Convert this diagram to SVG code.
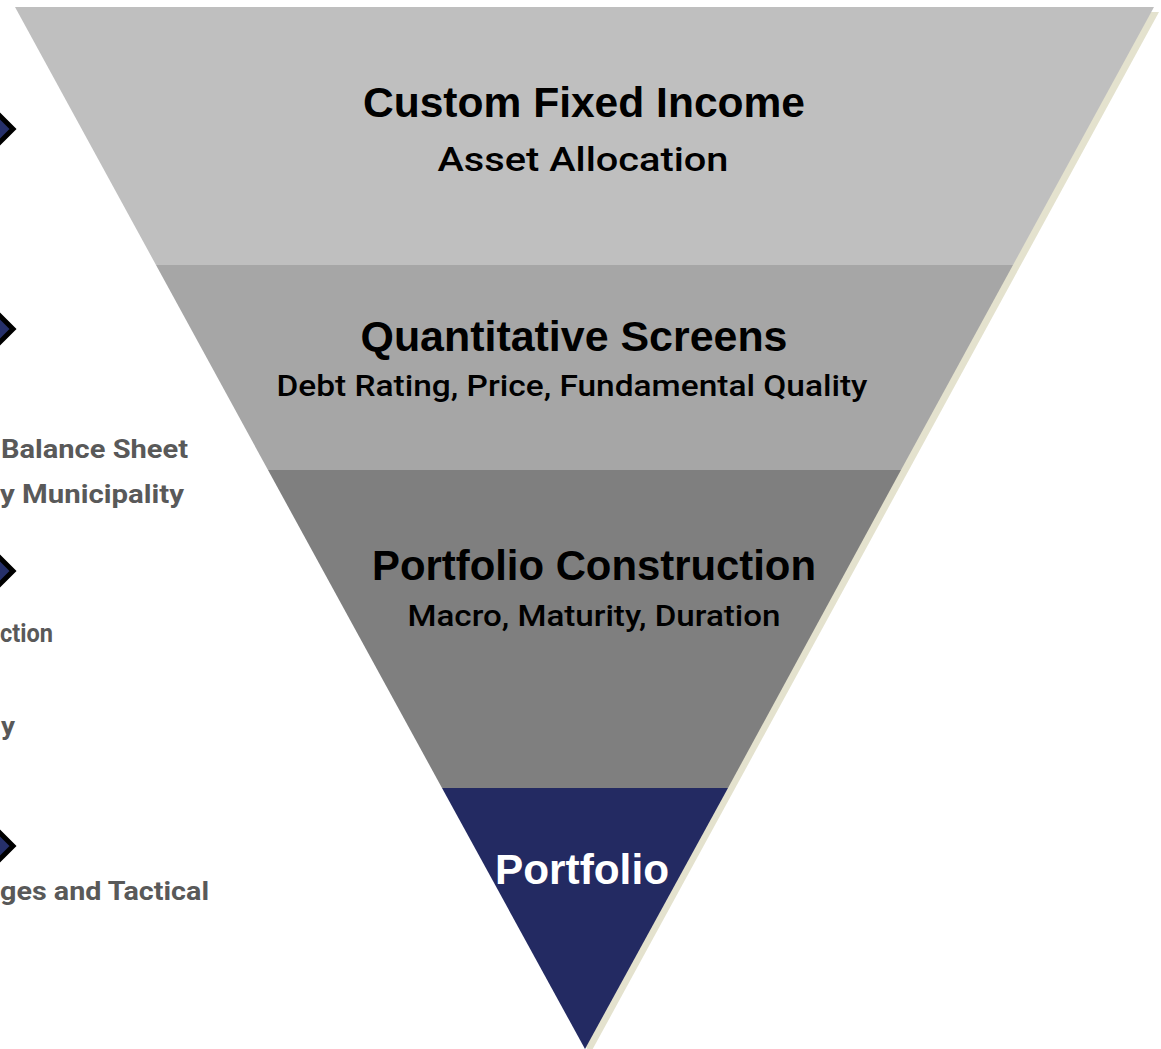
<svg xmlns="http://www.w3.org/2000/svg" width="1161" height="1049" viewBox="0 0 1161 1049">
<style>
.title{font-family:"Liberation Sans",Arial,sans-serif;font-weight:bold;font-size:43px;fill:#000;text-anchor:middle}
.sub{font-family:Roboto,"Liberation Sans",Arial,sans-serif;font-weight:500;font-size:33px;fill:#000;text-anchor:middle}
.sub2{font-family:Roboto,"Liberation Sans",Arial,sans-serif;font-weight:500;font-size:29px;fill:#000;text-anchor:middle}
.side{font-family:Roboto,"Liberation Sans",Arial,sans-serif;font-weight:bold;font-size:26px;fill:#595959}
.dia{fill:#26306A;stroke:#000;stroke-width:5;stroke-linejoin:miter}
</style>
<rect width="1161" height="1049" fill="#fff"/>
<g id="shadow">
<polygon points="20,12 1159,12 590,1054" fill="#E4E2CE"/>
</g>
<g id="band-asset-allocation">
<polygon points="15,7 1154,7 1013,265 156,265" fill="#BFBFBF"/>
<text class="title" x="584" y="117" textLength="442" lengthAdjust="spacingAndGlyphs">Custom Fixed Income</text>
<text class="sub" x="583" y="171" textLength="291" lengthAdjust="spacingAndGlyphs">Asset Allocation</text>
</g>
<g id="band-quantitative-screens">
<polygon points="156,265 1013,265 901,470 268,470" fill="#A6A6A6"/>
<text class="title" x="574" y="351" textLength="427" lengthAdjust="spacingAndGlyphs">Quantitative Screens</text>
<text class="sub2" x="572" y="396" textLength="591" lengthAdjust="spacingAndGlyphs">Debt Rating, Price, Fundamental Quality</text>
</g>
<g id="band-portfolio-construction">
<polygon points="268,470 901,470 728,788 442,788" fill="#7F7F7F"/>
<text class="title" x="594" y="580" textLength="444" lengthAdjust="spacingAndGlyphs">Portfolio Construction</text>
<text class="sub2" x="594" y="626" textLength="373" lengthAdjust="spacingAndGlyphs">Macro, Maturity, Duration</text>
</g>
<g id="band-portfolio">
<polygon points="442,788 728,788 585,1049" fill="#232A62"/>
<text class="title" x="582" y="884" style="fill:#fff" textLength="174" lengthAdjust="spacingAndGlyphs">Portfolio</text>
</g>
<g id="side-markers">
<polygon class="dia" points="13,129 0,116 -13,129 0,142"/>
<polygon class="dia" points="13,329 0,316 -13,329 0,342"/>
<polygon class="dia" points="13,571 0,558 -13,571 0,584"/>
<polygon class="dia" points="13,846 0,833 -13,846 0,859"/>
</g>
<g id="side-labels">
<text class="side" x="1" y="458" textLength="187" lengthAdjust="spacingAndGlyphs">Balance Sheet</text>
<text class="side" x="0" y="503" textLength="184" lengthAdjust="spacingAndGlyphs">y Municipality</text>
<text class="side" x="0" y="642" textLength="53" lengthAdjust="spacingAndGlyphs">ction</text>
<text class="side" x="1" y="735" textLength="14" lengthAdjust="spacingAndGlyphs">y</text>
<text class="side" x="0" y="900" textLength="209" lengthAdjust="spacingAndGlyphs">ges and Tactical</text>
</g>
<g id="connectors"/>
</svg>
